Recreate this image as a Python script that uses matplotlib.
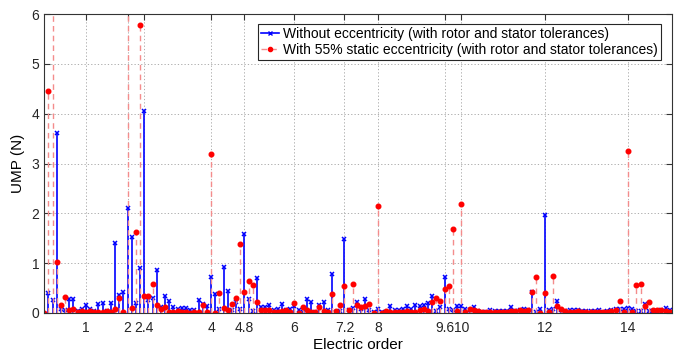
import numpy as np
import matplotlib
matplotlib.use("Agg")
import matplotlib.pyplot as plt
from matplotlib.lines import Line2D

plt.rcParams['font.family'] = ['Liberation Sans', 'DejaVu Sans']

# electric orders 0 .. 15 in steps of 0.1
orders = np.round(np.arange(0, 151) * 0.1, 1)

# UMP without eccentricity (values above 6 are clipped by the axis)
ump_healthy = [
    6.5, 0.41, 0.25, 3.61, 0.08, 0.05, 0.27, 0.27, 0.03, 0.07,
    0.15, 0.07, 0.04, 0.18, 0.20, 0.03, 0.19, 1.40, 0.35, 0.43,
    2.10, 1.53, 0.19, 0.90, 4.05, 0.25, 0.29, 0.86, 0.11, 0.33,
    0.23, 0.11, 0.07, 0.09, 0.09, 0.05, 0.06, 0.25, 0.17, 0.14,
    0.73, 0.37, 0.07, 0.92, 0.45, 0.06, 0.21, 0.07, 1.58, 0.28,
    0.04, 0.70, 0.11, 0.11, 0.16, 0.05, 0.07, 0.18, 0.06, 0.07,
    0.14, 0.05, 0.01, 0.27, 0.21, 0.01, 0.15, 0.21, 0.05, 0.78,
    0.01, 0.03, 1.48, 0.05, 0.09, 0.21, 0.07, 0.27, 0.05, 0.01,
    0.08, 0.01, 0.01, 0.13, 0.05, 0.06, 0.07, 0.13, 0.07, 0.15,
    0.13, 0.15, 0.20, 0.33, 0.04, 0.12, 0.73, 0.07, 0.05, 0.14,
    0.14, 0.08, 0.06, 0.12, 0.04, 0.01, 0.01, 0.06, 0.03, 0.03,
    0.03, 0.03, 0.12, 0.03, 0.06, 0.07, 0.05, 0.42, 0.01, 0.07,
    1.96, 0.05, 0.07, 0.23, 0.06, 0.04, 0.05, 0.05, 0.05, 0.03,
    0.03, 0.03, 0.03, 0.05, 0.02, 0.03, 0.05, 0.08, 0.08, 0.07,
    0.10, 0.08, 0.03, 0.03, 0.18, 0.04, 0.03, 0.03, 0.05, 0.10,
    0.05,
]

# UMP with 55% static eccentricity
ump_ecc = [
    0.00, 4.45, 6.5, 1.02, 0.15, 0.31, 0.05, 0.08, 0.01, 0.04,
    0.01, 0.03, 0.01, 0.01, 0.01, 0.03, 0.01, 0.07, 0.30, 0.02,
    6.5, 0.09, 1.62, 5.78, 0.33, 0.34, 0.58, 0.15, 0.07, 0.11,
    0.01, 0.01, 0.03, 0.02, 0.02, 0.00, 0.01, 0.01, 0.16, 0.01,
    3.19, 0.00, 0.40, 0.09, 0.05, 0.18, 0.30, 1.39, 0.42, 0.64,
    0.56, 0.21, 0.06, 0.06, 0.06, 0.01, 0.02, 0.04, 0.05, 0.01,
    0.19, 0.00, 0.12, 0.05, 0.01, 0.01, 0.11, 0.04, 0.01, 0.37,
    0.03, 0.15, 0.55, 0.05, 0.58, 0.15, 0.12, 0.14, 0.17, 0.00,
    2.15, 0.00, 0.03, 0.01, 0.01, 0.01, 0.01, 0.03, 0.01, 0.01,
    0.05, 0.07, 0.04, 0.22, 0.29, 0.23, 0.48, 0.54, 1.69, 0.03,
    2.18, 0.01, 0.08, 0.06, 0.03, 0.01, 0.01, 0.01, 0.02, 0.01,
    0.01, 0.02, 0.03, 0.03, 0.05, 0.03, 0.05, 0.43, 0.73, 0.00,
    0.40, 0.02, 0.75, 0.14, 0.07, 0.03, 0.01, 0.01, 0.03, 0.01,
    0.01, 0.01, 0.01, 0.01, 0.01, 0.01, 0.03, 0.05, 0.23, 0.01,
    3.26, 0.01, 0.56, 0.59, 0.13, 0.21, 0.05, 0.05, 0.06, 0.04,
    0.01,
]

xticks = [1, 2, 2.4, 4, 4.8, 6, 7.2, 8, 9.6, 10, 12, 14]
xticklabels = ["1", "2", "2.4", "4", "4.8", "6", "7.2", "8", "9.6", "10", "12", "14"]

fig = plt.figure(figsize=(6.8, 3.52), dpi=100)
ax = fig.add_axes([0.065, 0.111, 0.923, 0.849])

# healthy machine
m, s, b = ax.stem(orders, ump_healthy, linefmt='-', markerfmt='x', basefmt=' ')
s.set_color('#0000ff')
s.set_linewidth(1.2)
m.set_color('#0000ff')
m.set_markersize(3.2)
m.set_markeredgewidth(1.1)

# eccentric machine
m2, s2, b2 = ax.stem(orders, ump_ecc, linefmt='--', markerfmt='o', basefmt=' ')
s2.set_color('#f48c8c')
s2.set_linewidth(1.0)
s2.set_linestyle((0, (4, 3)))
m2.set_color('#ff0000')
m2.set_markersize(3.3)

ax.set_xlim(0, 15.05)
ax.set_ylim(0, 6)
ax.set_xticks(xticks)
ax.set_xticklabels(xticklabels)
ax.set_yticks([0, 1, 2, 3, 4, 5, 6])
ax.grid(True, linestyle=(0, (1.5, 2.5)), color='#a0a0a0', linewidth=0.6)
ax.set_axisbelow(True)
ax.tick_params(direction='in', top=True, right=True, length=4, labelsize=10,
               color='#333333', labelcolor='#262626')
ax.tick_params(axis='x', pad=6)
for sp in ax.spines.values():
    sp.set_color('#333333')
    sp.set_linewidth(0.8)

ax.set_xlabel("Electric order", fontsize=11, labelpad=2)
ax.set_ylabel("UMP (N)", fontsize=11, labelpad=5)

handles = [
    Line2D([], [], color='#0000ff', lw=1.2, marker='x', markersize=3, markevery=[1]),
    Line2D([], [], color='#f48c8c', lw=1.0, ls=(0, (4, 3)), marker='o', markersize=3,
           markerfacecolor='#ff0000', markeredgecolor='#ff0000', markevery=[1]),
]
leg = ax.legend(handles, ["Without eccentricity (with rotor and stator tolerances)",
                          "With 55% static eccentricity (with rotor and stator tolerances)"],
                loc='upper right', bbox_to_anchor=(0.982, 0.967), borderaxespad=0,
                fontsize=10, handlelength=1.3, handletextpad=0.3, borderpad=0.2,
                labelspacing=0.15, fancybox=False, framealpha=1, edgecolor='#262626')
leg.get_frame().set_linewidth(0.8)

fig.savefig("out.png", dpi=100)
